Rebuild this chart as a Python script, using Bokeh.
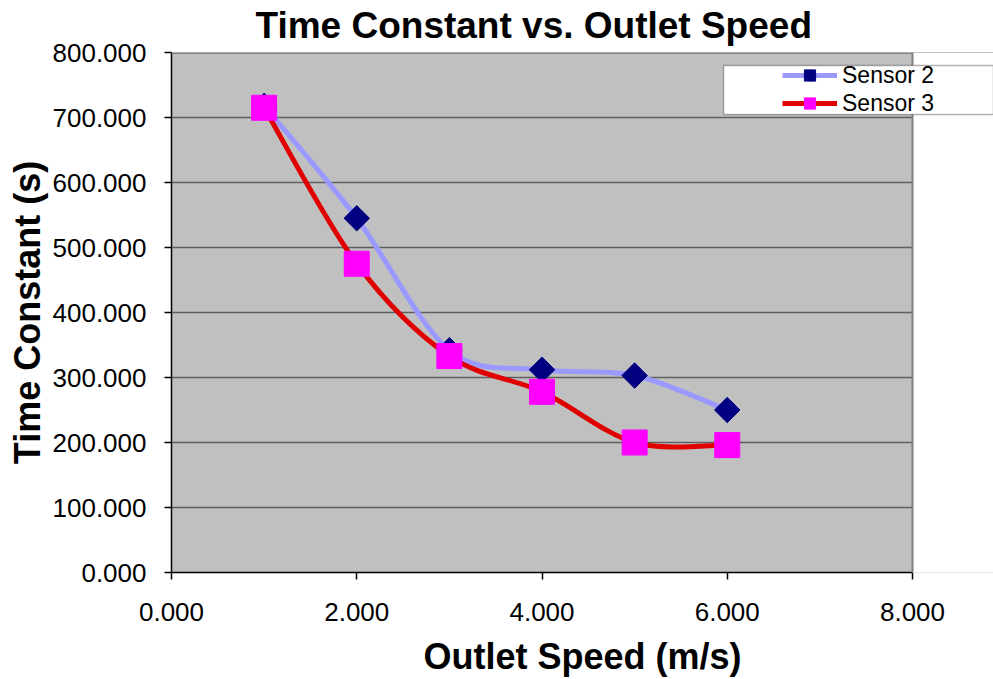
import math
from bokeh.plotting import figure
from bokeh.models import (Legend, LegendItem, BoxAnnotation, Span, Title, LinearAxis,
                          NumeralTickFormatter, FixedTicker, Range1d)
from bokeh.embed import file_html
from bokeh.resources import INLINE

# ---- data ----
speed = [1, 2, 3, 4, 5, 6]
sensor2 = [718, 545, 342, 312, 303, 250]
sensor3 = [715, 475, 333, 278, 200, 196]
series_names = ["Sensor 2", "Sensor 3"]
x_ticks = [0, 2, 4, 6, 8]
y_ticks = [0, 100, 200, 300, 400, 500, 600, 700, 800]
title_text = "Time Constant vs. Outlet Speed"
x_label = "Outlet Speed (m/s)"
y_label = "Time Constant (s)"

FONT = "Liberation Sans"
X_MAX = 8
# the frame runs to the right edge of the canvas; the part beyond X_MAX is
# painted white so that the legend can overhang the plot area as in Excel
X_VIEW_END = X_MAX * (993 - 171) / 741.0


def smooth_segments(xs, ys):
    """Catmull-Rom style cubic Bezier control points (like Excel smoothing)."""
    n = len(xs)
    out = dict(x0=[], y0=[], x1=[], y1=[], cx0=[], cy0=[], cx1=[], cy1=[])
    for i in range(n - 1):
        a = max(i - 1, 0)
        d = min(i + 2, n - 1)
        out["x0"].append(xs[i]); out["y0"].append(ys[i])
        out["x1"].append(xs[i + 1]); out["y1"].append(ys[i + 1])
        out["cx0"].append(xs[i] + (xs[i + 1] - xs[a]) / 6.0)
        out["cy0"].append(ys[i] + (ys[i + 1] - ys[a]) / 6.0)
        out["cx1"].append(xs[i + 1] - (xs[d] - xs[i]) / 6.0)
        out["cy1"].append(ys[i + 1] - (ys[d] - ys[i]) / 6.0)
    return out


p = figure(width=993, height=679, x_range=Range1d(0, X_VIEW_END),
           y_range=Range1d(0, 800),
           output_backend="svg", toolbar_location=None,
           min_border_left=171, min_border_right=0,
           min_border_top=52, min_border_bottom=107,
           background_fill_color="#C0C0C0", border_fill_color="white")

p.outline_line_color = None

# title
p.title = Title(text=title_text, align="left", offset=84, standoff=9,
                vertical_align="top",
                text_font=FONT, text_font_size="37px", text_font_style="bold",
                text_color="black")

# axes
p.xaxis.ticker = FixedTicker(ticks=x_ticks, minor_ticks=[])
p.yaxis.ticker = FixedTicker(ticks=y_ticks, minor_ticks=[])
p.xaxis.bounds = (0, X_MAX)
for ax in (p.xaxis, p.yaxis):
    ax.formatter = NumeralTickFormatter(format="0.000")
    ax.major_tick_in = 0
    ax.major_tick_out = 7
    ax.minor_tick_in = 0
    ax.minor_tick_out = 0
    ax.axis_line_color = "black"
    ax.axis_line_width = 1.5
    ax.major_tick_line_color = "black"
    ax.major_tick_line_width = 1.5
    ax.major_label_text_font = FONT
    ax.major_label_text_font_size = "26px"
    ax.major_label_text_color = "black"
p.xaxis.major_label_standoff = 23
p.yaxis.major_label_standoff = 18

# x label carried by a second, bare axis whose extent is centred like Excel's
label_axis = LinearAxis(bounds=(0.92, X_MAX), ticker=FixedTicker(ticks=[], minor_ticks=[]),
                        axis_line_alpha=0, major_tick_in=0, major_tick_out=0,
                        minor_tick_in=0, minor_tick_out=0,
                        axis_label=x_label, axis_label_standoff=12,
                        axis_label_text_font=FONT, axis_label_text_font_size="36px",
                        axis_label_text_font_style="bold",
                        axis_label_text_color="black")
p.add_layout(label_axis, "below")

p.yaxis.axis_label = y_label
p.yaxis.axis_label_text_font = FONT
p.yaxis.axis_label_text_font_size = "36px"
p.yaxis.axis_label_text_font_style = "bold"
p.yaxis.axis_label_text_color = "black"
p.yaxis.axis_label_standoff = 2

p.xgrid.visible = False
p.ygrid.grid_line_color = "#5f5f5f"
p.ygrid.grid_line_width = 1.5

# series
seg2 = smooth_segments(speed, sensor2)
seg3 = smooth_segments(speed, sensor3)
l2 = p.bezier(x0="x0", y0="y0", x1="x1", y1="y1", cx0="cx0", cy0="cy0",
              cx1="cx1", cy1="cy1", source=seg2, line_color="#9999FF", line_width=5)
m2 = p.scatter(speed, sensor2, marker="square", size=18, angle=math.pi / 4,
               fill_color="#000080", line_color="#000080")
l3 = p.bezier(x0="x0", y0="y0", x1="x1", y1="y1", cx0="cx0", cy0="cy0",
              cx1="cx1", cy1="cy1", source=seg3, line_color="#E00000", line_width=5)
m3 = p.scatter(speed, sensor3, marker="square", size=25,
               fill_color="#FF00FF", line_color="#FF00FF")

# plot-area border on top, white area right of the plot area, right border
p.add_layout(Span(location=800, dimension="width", line_color="#808080",
                  line_width=3, level="overlay"))
p.add_layout(BoxAnnotation(left=X_MAX, fill_color="white", fill_alpha=1.0,
                           line_alpha=0, level="overlay"))
p.add_layout(Span(location=X_MAX, dimension="height", line_color="#808080",
                  line_width=2, level="overlay"))

# legend box (white with black border) and legend items
p.add_layout(BoxAnnotation(left=5.96, top=780, bottom=704.5,
                           fill_color="white", fill_alpha=1.0,
                           line_color="black", line_width=1.5, level="overlay"))

legend = Legend(items=[LegendItem(label=series_names[0], renderers=[l2, m2]),
                       LegendItem(label=series_names[1], renderers=[l3, m3])],
                location=(611, 455), glyph_width=55, glyph_height=28,
                label_height=28, label_standoff=5, spacing=-4, padding=0, margin=0,
                background_fill_alpha=0, border_line_alpha=0,
                label_text_font=FONT, label_text_font_size="23px",
                label_text_color="black")
p.add_layout(legend)

open("out.html", "w").write(file_html(p, INLINE))
